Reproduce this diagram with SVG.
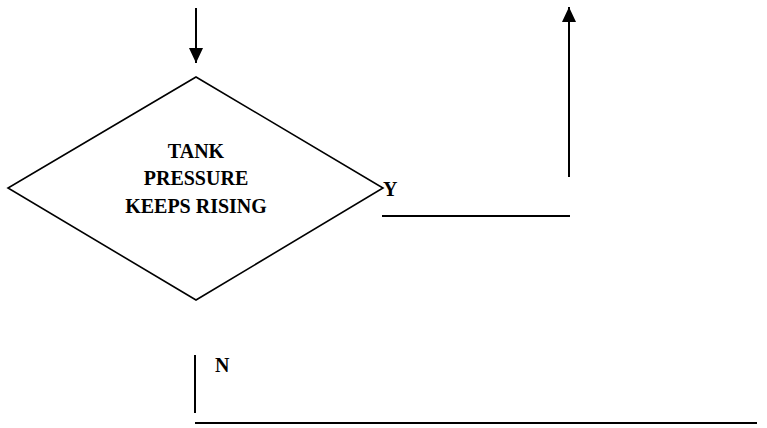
<svg xmlns="http://www.w3.org/2000/svg" width="767" height="428" viewBox="0 0 767 428">
<style>
.ln{stroke:#000;stroke-width:2;fill:none}
.t{font-family:"Liberation Serif","Times New Roman",serif;font-weight:bold;font-size:20px;fill:#000}
</style>
<defs>
<marker id="ah" markerWidth="15" markerHeight="14" refX="15" refY="7" orient="auto" markerUnits="userSpaceOnUse" viewBox="0 0 15 14">
<path d="M0,0 L15,7 L0,14 Z" fill="#000"/>
</marker>
</defs>
<rect width="767" height="428" fill="#fff"/>
<g id="decision">
<polygon points="196,77 383,188 196,300 8,188" fill="#fff" stroke="#000" stroke-width="1.6"/>
<text class="t" text-anchor="middle" x="196" y="158">TANK</text>
<text class="t" text-anchor="middle" x="196" y="185">PRESSURE</text>
<text class="t" text-anchor="middle" x="196" y="213">KEEPS RISING</text>
</g>
<g id="labels">
<text class="t" x="383" y="196">Y</text>
<text class="t" x="215" y="372">N</text>
</g>
<g id="connectors">
<line class="ln" x1="196" y1="8" x2="196" y2="63" marker-end="url(#ah)"/>
<line class="ln" x1="569" y1="177" x2="569" y2="7" marker-end="url(#ah)"/>
<line class="ln" x1="382" y1="216" x2="570" y2="216"/>
<line class="ln" x1="195" y1="355" x2="195" y2="413"/>
<line class="ln" x1="195" y1="423" x2="757" y2="423"/>
</g>
</svg>
